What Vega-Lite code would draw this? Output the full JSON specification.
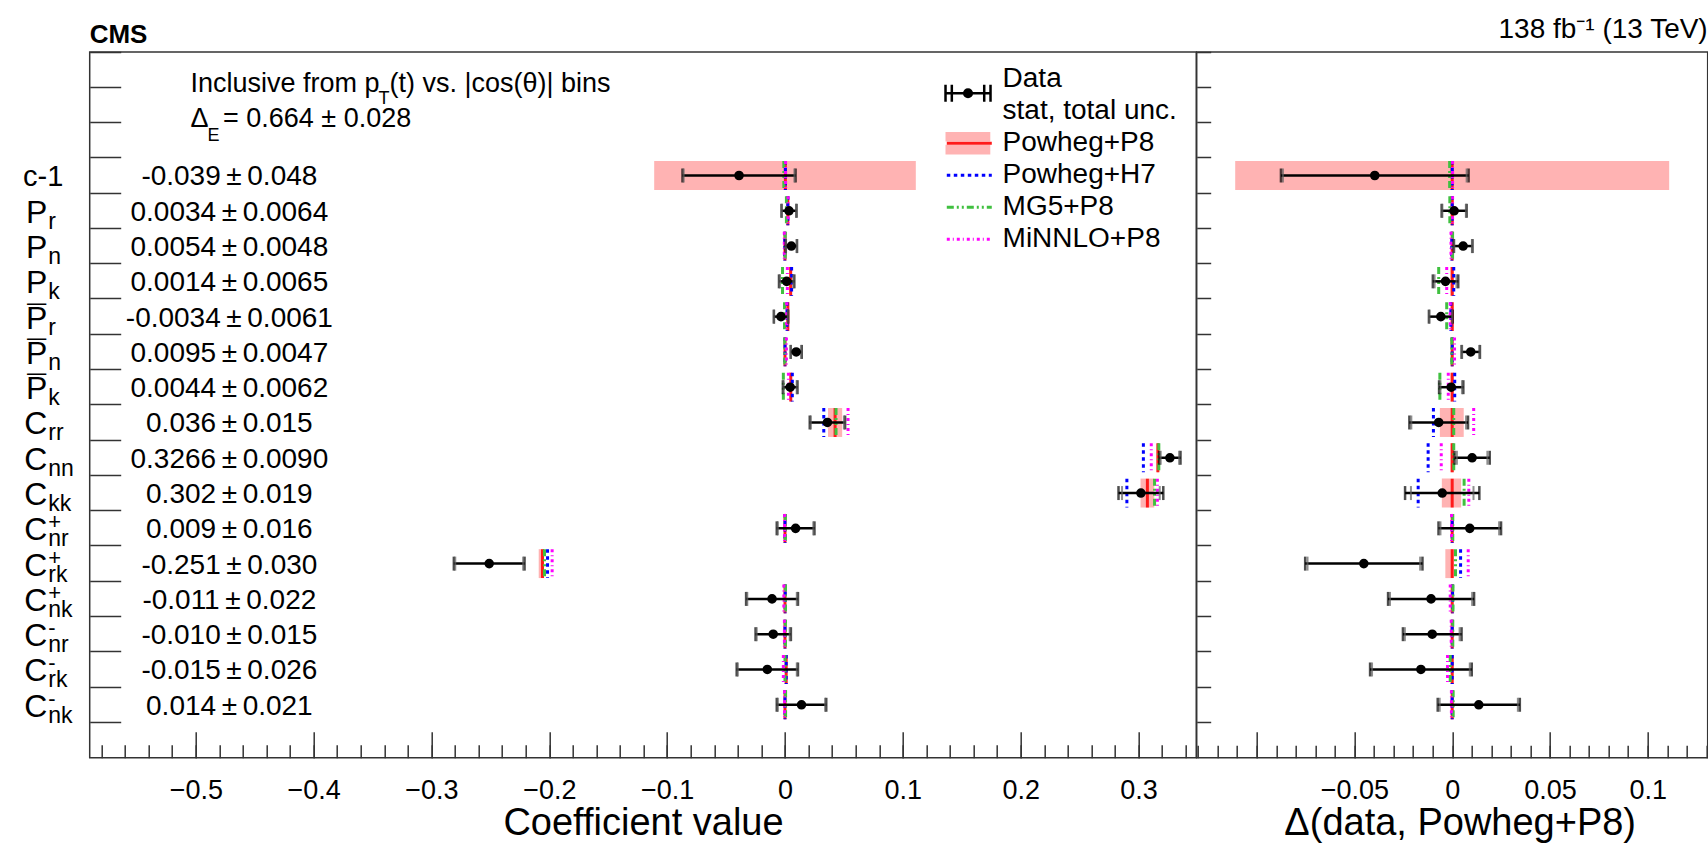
{
  "$schema": "https://vega.github.io/schema/vega-lite/v6.json",
  "background": "white",
  "padding": {"left": 21.7, "top": 14, "right": 0, "bottom": 4},
  "spacing": 0,
  "bounds": "flush",
  "config": {
    "font": "Liberation Sans",
    "view": {"stroke": "#333333", "strokeWidth": 1.5},
    "axis": {"labelFont": "Liberation Sans", "titleFont": "Liberation Sans", "labelColor": "black", "titleColor": "black", "tickColor": "#333333", "tickWidth": 1.5, "domain": false, "grid": false, "titleFontWeight": "normal", "labelOverlap": false},
    "legend": {"labelFont": "Liberation Sans"}
  },
  "resolve": {"scale": {"x": "independent", "y": "independent"}},
  "datasets": {
    "coef": [
      {"id":"c1","plain":"c-1","main":"","sub":"","sup":"","bar":"","txt":"-0.039\u2009±\u20090.048","val":-0.039,"tot":0.048,"stat":0.047,"p8lo":-0.111,"p8hi":0.111,"dval":-0.0396,"ulo":-0.111,"uhi":0.111},
      {"id":"Pr","plain":"","main":"P","sub":"r","sup":"","bar":"","txt":"0.0034\u2009±\u20090.0064","val":0.0034,"tot":0.0064,"stat":0.006,"p8lo":0.0016,"p8hi":0.0032,"dval":0.001,"ulo":-0.0008,"uhi":0.0008},
      {"id":"Pn","plain":"","main":"P","sub":"n","sup":"","bar":"","txt":"0.0054\u2009±\u20090.0048","val":0.0054,"tot":0.0048,"stat":0.0045,"p8lo":-0.0005,"p8hi":0.0005,"dval":0.0056,"ulo":-0.0005,"uhi":0.0005},
      {"id":"Pk","plain":"","main":"P","sub":"k","sup":"","bar":"","txt":"0.0014\u2009±\u20090.0065","val":0.0014,"tot":0.0065,"stat":0.0056,"p8lo":0.004,"p8hi":0.0056,"dval":-0.0034,"ulo":-0.0008,"uhi":0.0008},
      {"id":"Pbr","plain":"","main":"P","sub":"r","sup":"","bar":"¯","txt":"-0.0034\u2009±\u20090.0061","val":-0.0034,"tot":0.0061,"stat":0.0058,"p8lo":0.0016,"p8hi":0.0032,"dval":-0.0058,"ulo":-0.0008,"uhi":0.0008},
      {"id":"Pbn","plain":"","main":"P","sub":"n","sup":"","bar":"¯","txt":"0.0095\u2009±\u20090.0047","val":0.0095,"tot":0.0047,"stat":0.0044,"p8lo":-0.0005,"p8hi":0.0005,"dval":0.0095,"ulo":-0.0005,"uhi":0.0005},
      {"id":"Pbk","plain":"","main":"P","sub":"k","sup":"","bar":"¯","txt":"0.0044\u2009±\u20090.0062","val":0.0044,"tot":0.0062,"stat":0.0055,"p8lo":0.0041,"p8hi":0.0057,"dval":-0.0005,"ulo":-0.0008,"uhi":0.0008},
      {"id":"Crr","plain":"","main":"C","sub":"rr","sup":"","bar":"","txt":"0.036\u2009±\u20090.015","val":0.036,"tot":0.015,"stat":0.014,"p8lo":0.0365,"p8hi":0.0485,"dval":-0.0069,"ulo":-0.0063,"uhi":0.0059},
      {"id":"Cnn","plain":"","main":"C","sub":"nn","sup":"","bar":"","txt":"0.3266\u2009±\u20090.0090","val":0.3266,"tot":0.009,"stat":0.0078,"p8lo":0.3156,"p8hi":0.3172,"dval":0.0102,"ulo":-0.0008,"uhi":0.0008},
      {"id":"Ckk","plain":"","main":"C","sub":"kk","sup":"","bar":"","txt":"0.302\u2009±\u20090.019","val":0.302,"tot":0.019,"stat":0.016,"p8lo":0.3017,"p8hi":0.3133,"dval":-0.0051,"ulo":-0.0053,"uhi":0.0046},
      {"id":"Cpnr","plain":"","main":"C","sub":"nr","sup":"+","bar":"","txt":"0.009\u2009±\u20090.016","val":0.009,"tot":0.016,"stat":0.015,"p8lo":-0.0006,"p8hi":0.0006,"dval":0.009,"ulo":-0.0006,"uhi":0.0006},
      {"id":"Cprk","plain":"","main":"C","sub":"rk","sup":"+","bar":"","txt":"-0.251\u2009±\u20090.030","val":-0.251,"tot":0.03,"stat":0.0288,"p8lo":-0.209,"p8hi":-0.2045,"dval":-0.0452,"ulo":-0.0035,"uhi":0.0008},
      {"id":"Cpnk","plain":"","main":"C","sub":"nk","sup":"+","bar":"","txt":"-0.011\u2009±\u20090.022","val":-0.011,"tot":0.022,"stat":0.021,"p8lo":-0.0006,"p8hi":0.0006,"dval":-0.0108,"ulo":-0.0006,"uhi":0.0006},
      {"id":"Cmnr","plain":"","main":"C","sub":"nr","sup":"-","bar":"","txt":"-0.010\u2009±\u20090.015","val":-0.01,"tot":0.015,"stat":0.014,"p8lo":-0.0006,"p8hi":0.0006,"dval":-0.0102,"ulo":-0.0006,"uhi":0.0006},
      {"id":"Cmrk","plain":"","main":"C","sub":"rk","sup":"-","bar":"","txt":"-0.015\u2009±\u20090.026","val":-0.015,"tot":0.026,"stat":0.025,"p8lo":0.0004,"p8hi":0.0016,"dval":-0.016,"ulo":-0.0006,"uhi":0.0006},
      {"id":"Cmnk","plain":"","main":"C","sub":"nk","sup":"-","bar":"","txt":"0.014\u2009±\u20090.021","val":0.014,"tot":0.021,"stat":0.02,"p8lo":-0.0006,"p8hi":0.0006,"dval":0.0136,"ulo":-0.0006,"uhi":0.0006}
    ],
    "preds": [
      {"id":"c1","model":"Powheg+P8","v":0.0003,"d":0},
      {"id":"Pr","model":"Powheg+P8","v":0.0024,"d":0},
      {"id":"Pn","model":"Powheg+P8","v":0,"d":0},
      {"id":"Pk","model":"Powheg+P8","v":0.0048,"d":0},
      {"id":"Pbr","model":"Powheg+P8","v":0.0024,"d":0},
      {"id":"Pbn","model":"Powheg+P8","v":0,"d":0},
      {"id":"Pbk","model":"Powheg+P8","v":0.0049,"d":0},
      {"id":"Crr","model":"Powheg+P8","v":0.0425,"d":0},
      {"id":"Cnn","model":"Powheg+P8","v":0.3164,"d":0},
      {"id":"Ckk","model":"Powheg+P8","v":0.3075,"d":0},
      {"id":"Cpnr","model":"Powheg+P8","v":0,"d":0},
      {"id":"Cprk","model":"Powheg+P8","v":-0.2058,"d":0},
      {"id":"Cpnk","model":"Powheg+P8","v":0,"d":0},
      {"id":"Cmnr","model":"Powheg+P8","v":0,"d":0},
      {"id":"Cmrk","model":"Powheg+P8","v":0.001,"d":0},
      {"id":"Cmnk","model":"Powheg+P8","v":0,"d":0},
      {"id":"c1","model":"Powheg+H7","v":0.0003,"d":0},
      {"id":"Pr","model":"Powheg+H7","v":0.0024,"d":0},
      {"id":"Pn","model":"Powheg+H7","v":-0.0002,"d":-0.0002},
      {"id":"Pk","model":"Powheg+H7","v":0.0056,"d":0.0008},
      {"id":"Pbr","model":"Powheg+H7","v":0.0017,"d":-0.0007},
      {"id":"Pbn","model":"Powheg+H7","v":0,"d":0},
      {"id":"Pbk","model":"Powheg+H7","v":0.0062,"d":0.0013},
      {"id":"Crr","model":"Powheg+H7","v":0.0329,"d":-0.0096},
      {"id":"Cnn","model":"Powheg+H7","v":0.3041,"d":-0.0123},
      {"id":"Ckk","model":"Powheg+H7","v":0.2901,"d":-0.0174},
      {"id":"Cpnr","model":"Powheg+H7","v":0,"d":0},
      {"id":"Cprk","model":"Powheg+H7","v":-0.2015,"d":0.0043},
      {"id":"Cpnk","model":"Powheg+H7","v":0.0002,"d":0.0002},
      {"id":"Cmnr","model":"Powheg+H7","v":0,"d":0},
      {"id":"Cmrk","model":"Powheg+H7","v":0.001,"d":0},
      {"id":"Cmnk","model":"Powheg+H7","v":0,"d":0},
      {"id":"c1","model":"MG5+P8","v":-0.001,"d":-0.0013},
      {"id":"Pr","model":"MG5+P8","v":0.0012,"d":-0.0012},
      {"id":"Pn","model":"MG5+P8","v":0.0002,"d":0.0002},
      {"id":"Pk","model":"MG5+P8","v":-0.0021,"d":-0.0069},
      {"id":"Pbr","model":"MG5+P8","v":-0.0004,"d":-0.0028},
      {"id":"Pbn","model":"MG5+P8","v":-0.0002,"d":-0.0002},
      {"id":"Pbk","model":"MG5+P8","v":-0.0014,"d":-0.0063},
      {"id":"Crr","model":"MG5+P8","v":0.0433,"d":0.0008},
      {"id":"Cnn","model":"MG5+P8","v":0.3172,"d":0.0008},
      {"id":"Ckk","model":"MG5+P8","v":0.3136,"d":0.0061},
      {"id":"Cpnr","model":"MG5+P8","v":0.0003,"d":0.0003},
      {"id":"Cprk","model":"MG5+P8","v":-0.2041,"d":0.0017},
      {"id":"Cpnk","model":"MG5+P8","v":0.0004,"d":0.0004},
      {"id":"Cmnr","model":"MG5+P8","v":0.0003,"d":0.0003},
      {"id":"Cmrk","model":"MG5+P8","v":0,"d":-0.001},
      {"id":"Cmnk","model":"MG5+P8","v":0.0005,"d":0.0005},
      {"id":"c1","model":"MiNNLO+P8","v":0.0005,"d":0.0002},
      {"id":"Pr","model":"MiNNLO+P8","v":0.0026,"d":0.0002},
      {"id":"Pn","model":"MiNNLO+P8","v":-0.0006,"d":-0.0006},
      {"id":"Pk","model":"MiNNLO+P8","v":0.002,"d":-0.0028},
      {"id":"Pbr","model":"MiNNLO+P8","v":0.0014,"d":-0.001},
      {"id":"Pbn","model":"MiNNLO+P8","v":0.0012,"d":0.0012},
      {"id":"Pbk","model":"MiNNLO+P8","v":0.0029,"d":-0.002},
      {"id":"Crr","model":"MiNNLO+P8","v":0.0535,"d":0.011},
      {"id":"Cnn","model":"MiNNLO+P8","v":0.3108,"d":-0.0056},
      {"id":"Ckk","model":"MiNNLO+P8","v":0.316,"d":0.0085},
      {"id":"Cpnr","model":"MiNNLO+P8","v":-0.0003,"d":-0.0003},
      {"id":"Cprk","model":"MiNNLO+P8","v":-0.1976,"d":0.0082},
      {"id":"Cpnk","model":"MiNNLO+P8","v":-0.001,"d":-0.001},
      {"id":"Cmnr","model":"MiNNLO+P8","v":-0.0005,"d":-0.0005},
      {"id":"Cmrk","model":"MiNNLO+P8","v":-0.0014,"d":-0.0024},
      {"id":"Cmnk","model":"MiNNLO+P8","v":-0.0004,"d":-0.0004}
    ]
  },
  "hconcat": [
    {
      "width": 1106.6,
      "height": 705.7,
      "title": {"text": "CMS", "anchor": "start", "frame": "group", "fontSize": 26, "fontWeight": "bold", "font": "Liberation Sans", "baseline": "alphabetic", "offset": -18, "color": "black"},
      "resolve": {"axis": {"x": "independent"}},
      "layer": [
        {
          "data": {"name": "coef"},
          "mark": {"type": "bar", "height": {"band": 0.82}},
          "encoding": {
            "x": {"field": "p8lo", "type": "quantitative", "title": "Coefficient value",
              "scale": {"domain": [-0.59, 0.349], "nice": false, "zero": false},
              "axis": {
                "orient": "bottom",
                "title": "Coefficient value", "titleFontSize": 38, "titleBaseline": "alphabetic", "titleY": 77,
                "values": [-0.5,-0.4,-0.3,-0.2,-0.1,0,0.1,0.2,0.3],
                "format": ".1~f",
                "tickSize": -26, "labelPadding": 67, "labelBaseline": "alphabetic", "labelFontSize": 27,
                "labelFlush": false, "labelOverlap": false, "labelBound": false,
                "domain": false, "grid": false, "tickColor": "#333333", "tickWidth": 1.5
              }},
            "x2": {"field": "p8hi"},
            "y": {"field": "id", "type": "nominal", "title": null,
              "scale": {"type": "band", "domain": ["h1","h2","h3","c1","Pr","Pn","Pk","Pbr","Pbn","Pbk","Crr","Cnn","Ckk","Cpnr","Cprk","Cpnk","Cmnr","Cmrk","Cmnk","h4"], "paddingInner": 0, "paddingOuter": 0},
              "axis": {"title": null, "labels": false, "tickSize": -31, "bandPosition": 0, "domain": false, "tickColor": "#333333", "tickWidth": 1.5}},
            "fill": {"datum": "p8", "type": "nominal",
              "scale": {"domain": ["d","s","p8","h7","mg5","mn"], "range": ["transparent","transparent","#ffb3b3","transparent","transparent","transparent"]},
              "legend": {"orient": "none", "legendX": 855.6, "legendY": 11.3, "title": null, "padding": 0,
                "symbolType": "M-1,-0.5H1V-0.07H-1ZM-1,0.07H1V0.5H-1Z", "symbolSize": 2025, "symbolStrokeWidth": 0, "symbolStrokeColor": "transparent", "symbolOpacity": 1,
                "labelFontSize": 28, "labelColor": "transparent", "labelOffset": 9.3, "rowPadding": 0, "clipHeight": 31.8, "labelLimit": 400}}
          }
        },
        {
          "data": {"name": "preds"},
          "mark": {"type": "point", "shape": "M0,-1V1", "size": 830, "filled": false, "strokeWidth": 3, "opacity": 1},
          "encoding": {
            "x": {"field": "v", "type": "quantitative", "title": "Coefficient value",
              "axis": {
                "orient": "bottom", "title": null, "labels": false,
                "values": [-0.58,-0.56,-0.54,-0.52,-0.5,-0.48,-0.46,-0.44,-0.42,-0.4,-0.38,-0.36,-0.34,-0.32,-0.3,-0.28,-0.26,-0.24,-0.22,-0.2,-0.18,-0.16,-0.14,-0.12,-0.1,-0.08,-0.06,-0.04,-0.02,0,0.02,0.04,0.06,0.08,0.1,0.12,0.14,0.16,0.18,0.2,0.22,0.24,0.26,0.28,0.3,0.32,0.34],
                "tickSize": -13, "domain": false, "grid": false, "tickColor": "#333333", "tickWidth": 1.5
              }},
            "y": {"field": "id", "type": "nominal", "title": null},
            "stroke": {"field": "model", "type": "nominal",
              "scale": {"domain": ["Data","stat, total unc.","Powheg+P8","Powheg+H7","MG5+P8","MiNNLO+P8"], "range": ["transparent","transparent","#ff1a1a","#0000ff","#40c040","#ff00ff"]},
              "legend": {"orient": "none", "legendX": 855.6, "legendY": 11.3, "title": null, "padding": 0,
                "symbolType": "stroke", "symbolSize": 2025, "symbolStrokeWidth": 3, "symbolOpacity": 1,
                "labelFontSize": 28, "labelColor": "black", "labelOffset": 9.3, "rowPadding": 0, "clipHeight": 31.8, "labelLimit": 400}},
            "strokeDash": {"field": "model", "type": "nominal",
              "scale": {"domain": ["Data","stat, total unc.","Powheg+P8","Powheg+H7","MG5+P8","MiNNLO+P8"], "range": [[1,0],[1,0],[1,0],[3.5,3.5],[7,3,2,3,2,3],[3,3,1,3]]},
              "legend": {"orient": "none", "legendX": 855.6, "legendY": 11.3, "title": null, "padding": 0,
                "symbolType": "stroke", "symbolSize": 2025, "symbolStrokeWidth": 3, "symbolOpacity": 1,
                "labelFontSize": 28, "labelColor": "black", "labelOffset": 9.3, "rowPadding": 0, "clipHeight": 31.8, "labelLimit": 400}}
          }
        },
        {
          "data": {"name": "coef"},
          "mark": {"type": "errorbar", "ticks": {"size": 14, "thickness": 2.5, "color": "black"}, "rule": {"strokeWidth": 2.5, "color": "black"}},
          "encoding": {"x": {"field": "val", "type": "quantitative", "title": "Coefficient value", "axis": null}, "xError": {"field": "tot"}, "y": {"field": "id", "type": "nominal", "title": null}}
        },
        {
          "data": {"name": "coef"},
          "mark": {"type": "errorbar", "ticks": {"size": 14, "thickness": 2, "color": "#606060"}, "rule": false},
          "encoding": {"x": {"field": "val", "type": "quantitative", "title": "Coefficient value", "axis": null}, "xError": {"field": "stat"}, "y": {"field": "id", "type": "nominal", "title": null}}
        },
        {
          "data": {"name": "coef"},
          "mark": {"type": "point", "shape": "circle", "filled": true, "size": 50, "fill": "black", "stroke": "black", "strokeWidth": 2.5, "opacity": 1},
          "encoding": {"x": {"field": "val", "type": "quantitative", "title": "Coefficient value", "axis": null}, "y": {"field": "id", "type": "nominal", "title": null}}
        },
        {
          "data": {"values": [{"entry": "Data"}]},
          "mark": {"type": "point", "shape": "M-1,-0.38V0.38M-0.72,-0.38V0.38M0.72,-0.38V0.38M1,-0.38V0.38M-1,0H1M-0.17,0A0.17,0.17,0,1,1,0.17,0A0.17,0.17,0,1,1,-0.17,0Z", "size": 2025, "filled": true, "fill": "black", "stroke": "black", "strokeWidth": 2.5, "opacity": 1},
          "encoding": {"x": {"datum": 0.1553, "type": "quantitative", "axis": null}, "y": {"datum": "h2", "type": "nominal", "bandPosition": 0.17}}
        },
        {
          "data": {"name": "coef"},
          "mark": {"type": "text", "align": "center", "baseline": "middle", "dy": 2, "fontSize": 28, "color": "black"},
          "encoding": {"x": {"datum": -0.4715, "type": "quantitative", "axis": null}, "y": {"field": "id", "type": "nominal", "title": null}, "text": {"field": "txt"}}
        },
        {
          "data": {"name": "coef"},
          "mark": {"type": "text", "align": "right", "baseline": "alphabetic", "dy": 12, "fontSize": 32, "color": "black"},
          "encoding": {"x": {"datum": -0.6260, "type": "quantitative", "axis": null}, "y": {"field": "id", "type": "nominal", "title": null}, "text": {"field": "main"}}
        },
        {
          "data": {"name": "coef"},
          "mark": {"type": "text", "align": "left", "baseline": "alphabetic", "dx": 1, "dy": 18, "fontSize": 23, "color": "black"},
          "encoding": {"x": {"datum": -0.6260, "type": "quantitative", "axis": null}, "y": {"field": "id", "type": "nominal", "title": null}, "text": {"field": "sub"}}
        },
        {
          "data": {"name": "coef"},
          "mark": {"type": "text", "align": "left", "baseline": "alphabetic", "dx": 1, "dy": 1, "fontSize": 22, "color": "black"},
          "encoding": {"x": {"datum": -0.6260, "type": "quantitative", "axis": null}, "y": {"field": "id", "type": "nominal", "title": null}, "text": {"field": "sup"}}
        },
        {
          "data": {"name": "coef"},
          "mark": {"type": "text", "align": "center", "baseline": "alphabetic", "dx": -10.7, "dy": 12, "fontSize": 34, "fontWeight": "bold", "color": "black"},
          "encoding": {"x": {"datum": -0.6260, "type": "quantitative", "axis": null}, "y": {"field": "id", "type": "nominal", "title": null}, "text": {"field": "bar"}}
        },
        {
          "data": {"name": "coef"},
          "mark": {"type": "text", "align": "right", "baseline": "alphabetic", "dy": 11, "fontSize": 29, "color": "black"},
          "encoding": {"x": {"datum": -0.6124, "type": "quantitative", "axis": null}, "y": {"field": "id", "type": "nominal", "title": null}, "text": {"field": "plain"}}
        },
        {
          "data": {"values": [{"t": "Inclusive from p"}]},
          "mark": {"type": "text", "align": "left", "baseline": "alphabetic", "dy": 22, "fontSize": 27, "color": "black"},
          "encoding": {"x": {"datum": -0.5045, "type": "quantitative", "axis": null}, "y": {"datum": "h1", "type": "nominal"}, "text": {"field": "t"}}
        },
        {
          "data": {"values": [{"t": "T"}]},
          "mark": {"type": "text", "align": "left", "baseline": "alphabetic", "dx": 188, "dy": 34.7, "fontSize": 18, "color": "black"},
          "encoding": {"x": {"datum": -0.5045, "type": "quantitative", "axis": null}, "y": {"datum": "h1", "type": "nominal"}, "text": {"field": "t"}}
        },
        {
          "data": {"values": [{"t": "(t) vs. |cos(θ)| bins"}]},
          "mark": {"type": "text", "align": "left", "baseline": "alphabetic", "dx": 199, "dy": 22, "fontSize": 27, "color": "black"},
          "encoding": {"x": {"datum": -0.5045, "type": "quantitative", "axis": null}, "y": {"datum": "h1", "type": "nominal"}, "text": {"field": "t"}}
        },
        {
          "data": {"values": [{"t": "Δ"}]},
          "mark": {"type": "text", "align": "left", "baseline": "alphabetic", "dy": 22, "fontSize": 27, "color": "black"},
          "encoding": {"x": {"datum": -0.5045, "type": "quantitative", "axis": null}, "y": {"datum": "h2", "type": "nominal"}, "text": {"field": "t"}}
        },
        {
          "data": {"values": [{"t": "E"}]},
          "mark": {"type": "text", "align": "left", "baseline": "alphabetic", "dx": 17, "dy": 36, "fontSize": 18, "color": "black"},
          "encoding": {"x": {"datum": -0.5045, "type": "quantitative", "axis": null}, "y": {"datum": "h2", "type": "nominal"}, "text": {"field": "t"}}
        },
        {
          "data": {"values": [{"t": "= 0.664 ± 0.028"}]},
          "mark": {"type": "text", "align": "left", "baseline": "alphabetic", "dx": 32.6, "dy": 22, "fontSize": 27, "color": "black"},
          "encoding": {"x": {"datum": -0.5045, "type": "quantitative", "axis": null}, "y": {"datum": "h2", "type": "nominal"}, "text": {"field": "t"}}
        }
      ]
    },
    {
      "width": 511,
      "height": 705.7,
      "title": {"text": "138 fb⁻¹ (13 TeV)", "anchor": "end", "frame": "group", "fontSize": 28, "fontWeight": "normal", "font": "Liberation Sans", "baseline": "alphabetic", "offset": -14.4, "color": "black"},
      "resolve": {"axis": {"x": "independent"}},
      "layer": [
        {
          "data": {"name": "coef"},
          "mark": {"type": "bar", "height": {"band": 0.82}, "color": "#ffb3b3"},
          "encoding": {
            "x": {"field": "ulo", "type": "quantitative", "title": "Δ(data, Powheg+P8)",
              "scale": {"domain": [-0.1307, 0.1307], "nice": false, "zero": false},
              "axis": {
                "orient": "bottom",
                "title": "Δ(data, Powheg+P8)", "titleFontSize": 38, "titleBaseline": "alphabetic", "titleY": 77, "titleX": 263,
                "values": [-0.1,-0.05,0,0.05,0.1],
                "labelExpr": "datum.value < -0.09 ? '' : format(datum.value, '.2~f')",
                "tickSize": -26, "labelPadding": 67, "labelBaseline": "alphabetic", "labelFontSize": 27,
                "labelFlush": false, "labelOverlap": false, "labelBound": false,
                "domain": false, "grid": false, "tickColor": "#333333", "tickWidth": 1.5
              }},
            "x2": {"field": "uhi"},
            "y": {"field": "id", "type": "nominal", "title": null,
              "scale": {"type": "band", "domain": ["h1","h2","h3","c1","Pr","Pn","Pk","Pbr","Pbn","Pbk","Crr","Cnn","Ckk","Cpnr","Cprk","Cpnk","Cmnr","Cmrk","Cmnk","h4"], "paddingInner": 0, "paddingOuter": 0},
              "axis": {"title": null, "labels": false, "tickSize": -14, "bandPosition": 0, "domain": false, "tickColor": "#333333", "tickWidth": 1.5}}
          }
        },
        {
          "data": {"name": "preds"},
          "mark": {"type": "point", "shape": "M0,-1V1", "size": 830, "filled": false, "strokeWidth": 3, "opacity": 1},
          "encoding": {
            "x": {"field": "d", "type": "quantitative", "title": "Δ(data, Powheg+P8)",
              "axis": {
                "orient": "bottom", "title": null, "labels": false,
                "values": [-0.13,-0.12,-0.11,-0.1,-0.09,-0.08,-0.07,-0.06,-0.05,-0.04,-0.03,-0.02,-0.01,0,0.01,0.02,0.03,0.04,0.05,0.06,0.07,0.08,0.09,0.1,0.11,0.12,0.13],
                "tickSize": -12.5, "domain": false, "grid": false, "tickColor": "#333333", "tickWidth": 1.5
              }},
            "y": {"field": "id", "type": "nominal", "title": null},
            "stroke": {"field": "model", "type": "nominal",
              "scale": {"domain": ["Data","stat, total unc.","Powheg+P8","Powheg+H7","MG5+P8","MiNNLO+P8"], "range": ["transparent","transparent","#ff1a1a","#0000ff","#40c040","#ff00ff"]}},
            "strokeDash": {"field": "model", "type": "nominal",
              "scale": {"domain": ["Data","stat, total unc.","Powheg+P8","Powheg+H7","MG5+P8","MiNNLO+P8"], "range": [[1,0],[1,0],[1,0],[3.5,3.5],[7,3,2,3,2,3],[3,3,1,3]]}}
          }
        },
        {
          "data": {"name": "coef"},
          "mark": {"type": "errorbar", "ticks": {"size": 14, "thickness": 2.5, "color": "black"}, "rule": {"strokeWidth": 2.5, "color": "black"}},
          "encoding": {"x": {"field": "dval", "type": "quantitative", "title": "Δ(data, Powheg+P8)", "axis": null}, "xError": {"field": "tot"}, "y": {"field": "id", "type": "nominal", "title": null}}
        },
        {
          "data": {"name": "coef"},
          "mark": {"type": "errorbar", "ticks": {"size": 14, "thickness": 2, "color": "#606060"}, "rule": false},
          "encoding": {"x": {"field": "dval", "type": "quantitative", "title": "Δ(data, Powheg+P8)", "axis": null}, "xError": {"field": "stat"}, "y": {"field": "id", "type": "nominal", "title": null}}
        },
        {
          "data": {"name": "coef"},
          "mark": {"type": "point", "shape": "circle", "filled": true, "size": 50, "fill": "black", "stroke": "black", "strokeWidth": 2.5, "opacity": 1},
          "encoding": {"x": {"field": "dval", "type": "quantitative", "title": "Δ(data, Powheg+P8)", "axis": null}, "y": {"field": "id", "type": "nominal", "title": null}}
        }
      ]
    }
  ]
}
